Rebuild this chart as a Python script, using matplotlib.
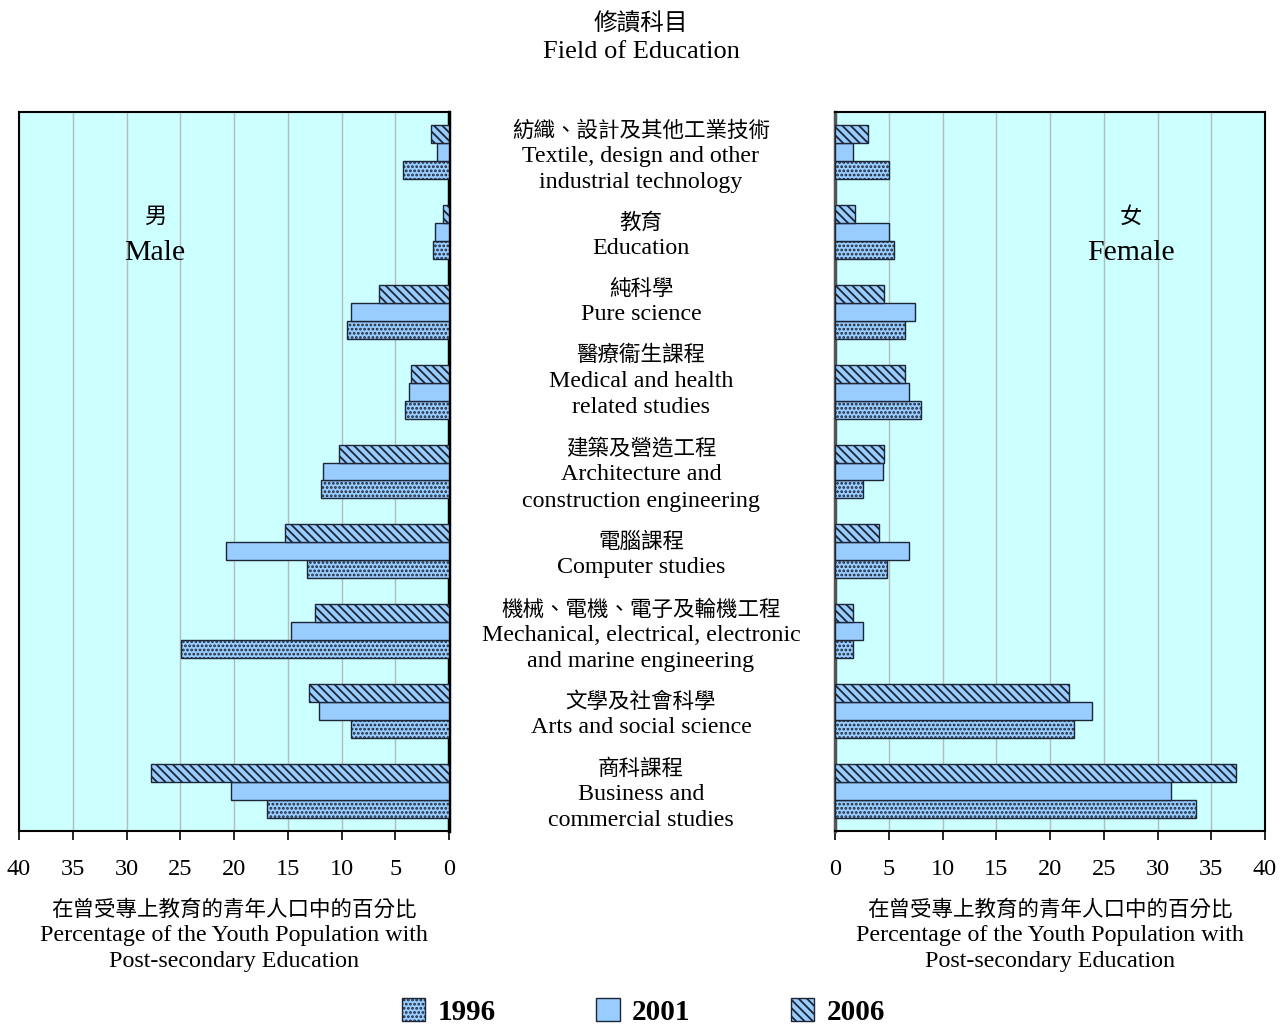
import matplotlib.pyplot as plt
import matplotlib.transforms as mtransforms
from matplotlib.patches import Patch

plt.rcParams["font.family"] = ["Liberation Serif", "Noto Sans CJK TC"]
plt.rcParams["hatch.linewidth"] = 1.3

# 修讀科目 (top to bottom)
fields = [
    "紡織、設計及其他工業技術\nTextile, design and other\nindustrial technology",
    "教育\nEducation",
    "純科學\nPure science",
    "醫療衞生課程\nMedical and health\nrelated studies",
    "建築及營造工程\nArchitecture and\nconstruction engineering",
    "電腦課程\nComputer studies",
    "機械、電機、電子及輪機工程\nMechanical, electrical, electronic\nand marine engineering",
    "文學及社會科學\nArts and social science",
    "商科課程\nBusiness and\ncommercial studies",
]

years = ["1996", "2001", "2006"]

male_1996 = [4.3, 1.5, 9.5, 4.1, 11.9, 13.2, 24.9, 9.1, 16.9]
male_2001 = [1.1, 1.3, 9.1, 3.7, 11.7, 20.7, 14.7, 12.1, 20.3]
male_2006 = [1.7, 0.6, 6.5, 3.5, 10.2, 15.3, 12.5, 13.0, 27.7]

female_1996 = [5.0, 5.5, 6.5, 8.0, 2.6, 4.8, 1.7, 22.2, 33.6]
female_2001 = [1.7, 5.0, 7.4, 6.9, 4.5, 6.9, 2.6, 23.9, 31.3]
female_2006 = [3.1, 1.9, 4.6, 6.5, 4.6, 4.1, 1.7, 21.8, 37.3]

bar_face = "#99ccff"
bar_edge = "#1c2636"
hatches = {"1996": "....", "2001": None, "2006": "\\\\\\\\"}
offsets = {"1996": 0.225, "2001": 0.0, "2006": -0.225}
bar_h = 0.225

# vertical nudge of each category name (pixels, + is down)
label_nudge = [4.5, 4, -10, -10.5, 3.5, 3, 4.5, 3.5, 3.5]

xlabel_lines = ["在曾受專上教育的青年人口中的百分比",
                "Percentage of the Youth Population with",
                "Post-secondary Education"]

CJK = "Noto Sans CJK TC"
SERIF = "Liberation Serif"

W, H = 1287, 1027
fig = plt.figure(figsize=(W / 100, H / 100), dpi=100)
ax_m = fig.add_axes([19 / W, (H - 831) / H, 430 / W, 719 / H])
ax_f = fig.add_axes([835 / W, (H - 831) / H, 430 / W, 719 / H])


def is_cjk(s):
    return any(ord(c) > 0x2e80 for c in s)


def px_text(x, y, s, size_cjk, size_latin, **kw):
    # x, y in pixels from the top-left corner of the figure
    cjk = is_cjk(s)
    fig.text(x / W, 1 - y / H, s, ha="center", va="center",
             family=CJK if cjk else SERIF,
             fontsize=size_cjk if cjk else size_latin, **kw)


pos = list(range(len(fields)))
male = {"1996": male_1996, "2001": male_2001, "2006": male_2006}
female = {"1996": female_1996, "2001": female_2001, "2006": female_2006}

for ax, data, cx in ((ax_m, male, 234), (ax_f, female, 1050)):
    ax.set_facecolor("#ccffff")
    for yr in years:
        ax.barh([p + offsets[yr] for p in pos], data[yr], height=bar_h,
                color=bar_face, edgecolor=bar_edge, linewidth=1.0,
                hatch=hatches[yr], zorder=3)
    ax.set_xlim(0, 40)
    ax.set_ylim(len(fields) - 0.5, -0.5)
    ax.set_xticks(range(0, 41, 5))
    ax.set_yticks([])
    ax.grid(axis="x", color="#b4bcbc", linewidth=1.0, zorder=0)
    ax.tick_params(axis="x", direction="out", length=6.5, width=1.2,
                   labelsize=17.5, pad=14, color="black")
    for s in ax.spines.values():
        s.set_linewidth(1.5)
        s.set_color("black")
    for k, line in enumerate(xlabel_lines):
        px_text(cx, 910 + 26 * k, line, 15.5, 17.3)

ax_m.invert_xaxis()
ax_m.spines["right"].set_linewidth(2.5)
ax_f.spines["left"].set_color("#555555")
ax_f.spines["left"].set_linewidth(2.5)

# category names between the two panels, one text per line
group_px = 719 / len(fields)
trans = mtransforms.blended_transform_factory(fig.transFigure, ax_m.transData)
for p, name, nudge in zip(pos, fields, label_nudge):
    lines = name.split("\n")
    n = len(lines)
    for k, line in enumerate(lines):
        dy = ((k - (n - 1) / 2) * 26 + nudge) / group_px
        cjk = is_cjk(line)
        fig.text(641 / W, p + dy, line, transform=trans, ha="center",
                 va="center", family=CJK if cjk else SERIF,
                 fontsize=15.5 if cjk else 17.3)

px_text(155, 216, "男", 16, 16)
px_text(155, 253, "Male", 21.5, 21.5)
px_text(1131, 216, "女", 16, 16)
px_text(1131, 253, "Female", 21.5, 21.5)

px_text(641, 24, "修讀科目", 17, 19)
px_text(641, 52, "Field of Education", 17, 19)

handles = [Patch(facecolor=bar_face, edgecolor=bar_edge, hatch=hatches[yr],
                 label=yr) for yr in years]
fig.legend(handles=handles, loc="center", bbox_to_anchor=(0.5, 15 / H), ncol=3,
           frameon=False, handlelength=0.8, handleheight=0.8,
           handletextpad=0.42, columnspacing=3.45,
           prop={"family": SERIF, "weight": "bold", "size": 21})

fig.savefig("out.png", dpi=100)
